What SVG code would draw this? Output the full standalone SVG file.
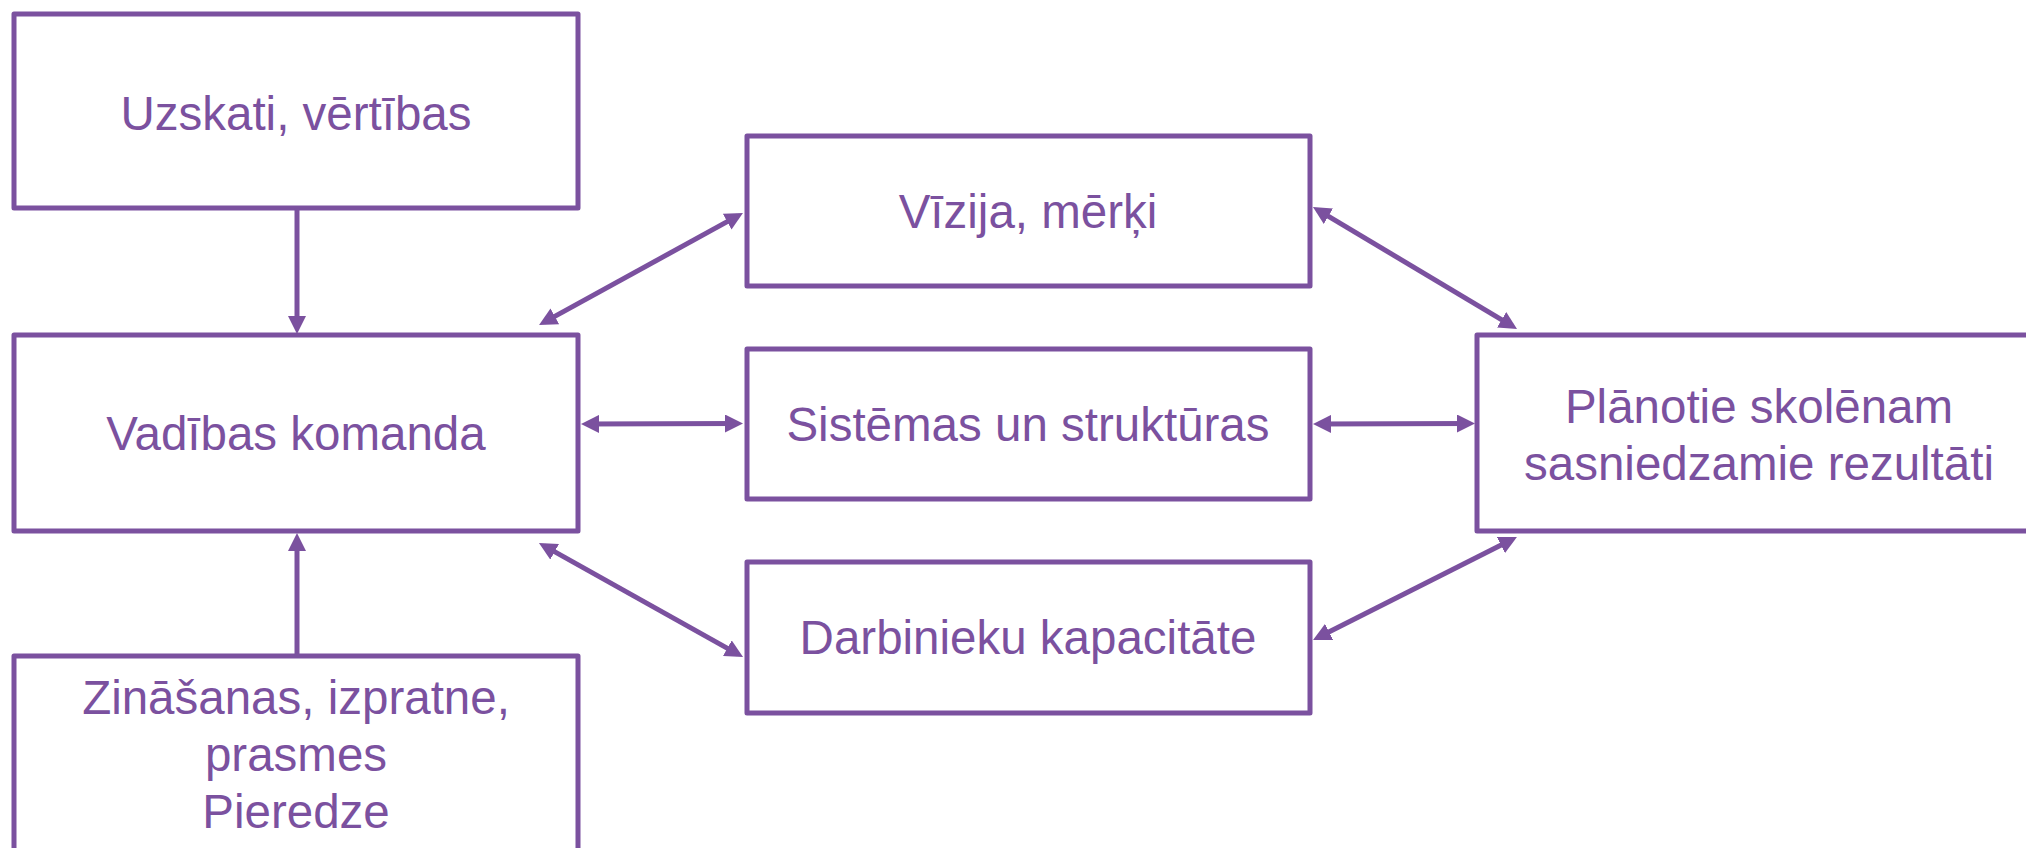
<svg xmlns="http://www.w3.org/2000/svg" width="2026" height="848" viewBox="0 0 2026 848">
<style>
.box{fill:#fff;stroke:#7B519F;stroke-width:5;stroke-linejoin:round}
.t{font-family:"Liberation Sans",Arial,sans-serif;font-size:47.5px;fill:#7B519F;text-anchor:middle}
.c{stroke:#7B519F;stroke-width:5;fill:none;marker-end:url(#ah)}
.d{marker-start:url(#ah)}
</style>
<defs>
<marker id="ah" viewBox="0 0 18 18" refX="12" refY="9" markerWidth="18" markerHeight="18" markerUnits="userSpaceOnUse" orient="auto-start-reverse">
<path d="M0,0 L18,9 L0,18 z" fill="#7B519F"/>
</marker>
</defs>
<rect width="2026" height="848" fill="#fff"/>
<g id="uzskati"><rect class="box" x="14" y="14" width="564" height="194"/><text class="t" x="296" y="130">Uzskati, vērtības</text></g>
<g id="vadibas"><rect class="box" x="14" y="335" width="564" height="196"/><text class="t" x="296" y="450">Vadības komanda</text></g>
<g id="zinasanas"><rect class="box" x="14" y="656" width="564" height="230"/><text class="t" x="296" y="714">Zināšanas, izpratne,</text><text class="t" x="296" y="771">prasmes</text><text class="t" x="296" y="828">Pieredze</text></g>
<g id="vizija"><rect class="box" x="747" y="136" width="563" height="150"/><text class="t" x="1028" y="228">Vīzija, mērķi</text></g>
<g id="sistemas"><rect class="box" x="747" y="349" width="563" height="150"/><text class="t" x="1028" y="441">Sistēmas un struktūras</text></g>
<g id="darbinieku"><rect class="box" x="747" y="562" width="563" height="151"/><text class="t" x="1028" y="654">Darbinieku kapacitāte</text></g>
<g id="planotie"><rect class="box" x="1477" y="335" width="620" height="196"/><text class="t" x="1759" y="423">Plānotie skolēnam</text><text class="t" x="1759" y="480">sasniedzamie rezultāti</text></g>
<g id="connectors">
<line class="c" x1="297" y1="208" x2="297" y2="328"/>
<line class="c" x1="297" y1="656" x2="297" y2="539"/>
<line class="c d" x1="544.3" y1="322.1" x2="737.7" y2="215.9"/>
<line class="c d" x1="587" y1="424" x2="737" y2="423.5"/>
<line class="c d" x1="544.2" y1="545.9" x2="737.8" y2="654.1"/>
<line class="c d" x1="1318.1" y1="210.1" x2="1511.9" y2="325.9"/>
<line class="c d" x1="1319" y1="424" x2="1469" y2="423.5"/>
<line class="c d" x1="1318.4" y1="637.3" x2="1511.6" y2="539.7"/>
</g>
</svg>
